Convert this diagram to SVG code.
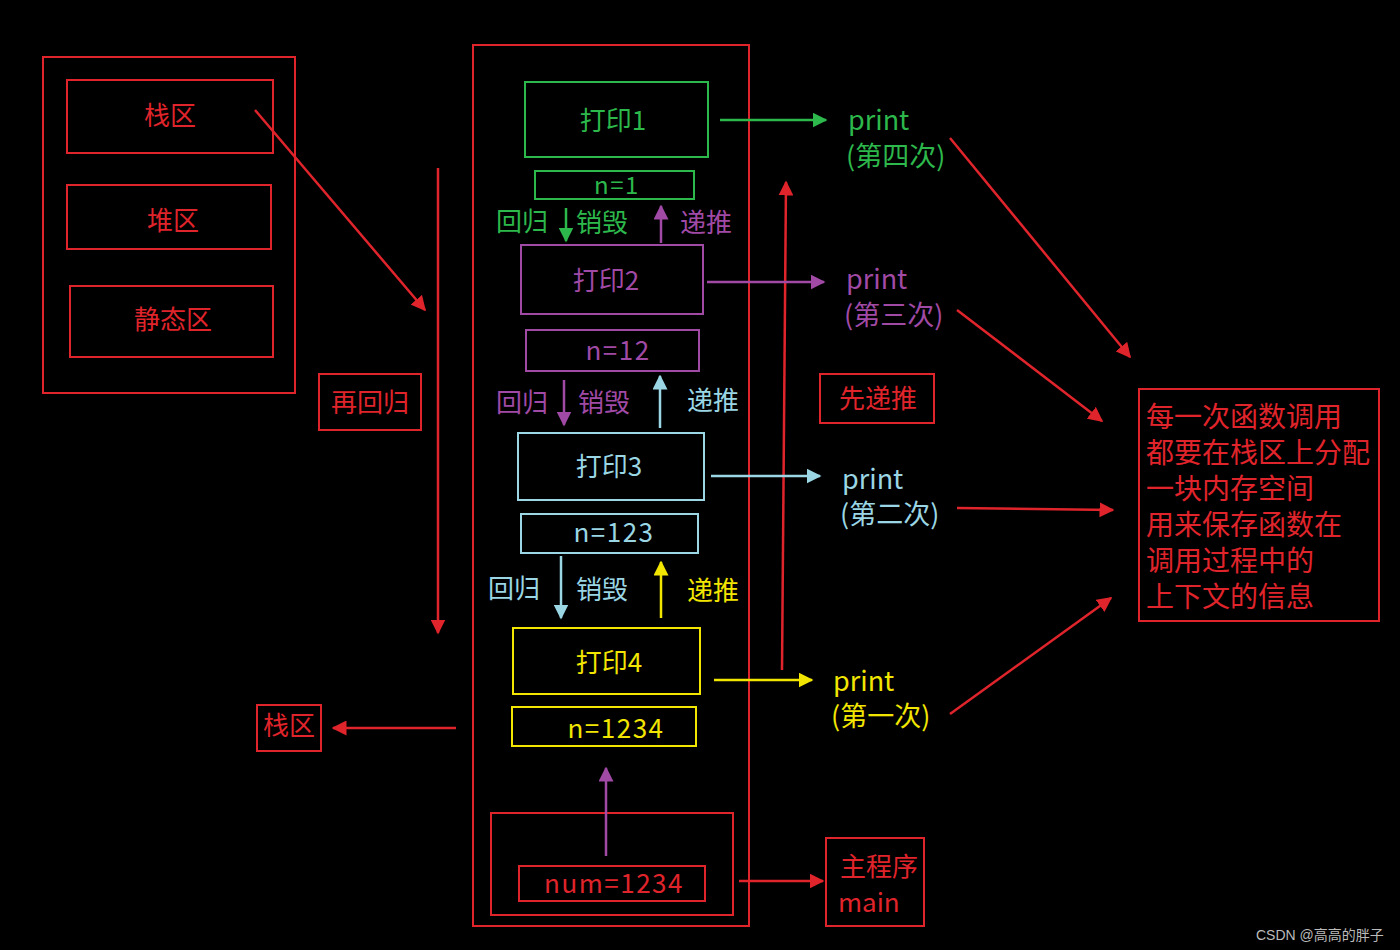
<svg xmlns="http://www.w3.org/2000/svg" width="1400" height="950" viewBox="0 0 1400 950">
<style>
text{font-family:"Noto Sans CJK SC","Noto Sans",sans-serif;font-size:26px;dominant-baseline:central}
.c{text-anchor:middle}
.n{letter-spacing:1.5px}
#info text{font-size:28px}
#prints text{font-size:27px}
.r{stroke:#e0242b;fill:none;stroke-width:2}
.rt{fill:#e0242b}
.g{stroke:#2db84c;fill:none;stroke-width:2}
.gt{fill:#2db84c}
.p{stroke:#a04aa6;fill:none;stroke-width:2}
.pt{fill:#a04aa6}
.cy{stroke:#9ad6e4;fill:none;stroke-width:2}
.ct{fill:#9ad6e4}
.y{stroke:#f2e600;fill:none;stroke-width:2}
.yt{fill:#f2e600}
.ln{stroke-width:2.5;fill:none}
</style>
<defs>
<marker id="ar" viewBox="0 0 10 10" refX="9" refY="5" markerWidth="6" markerHeight="6" orient="auto"><path d="M0,0L10,5L0,10z" fill="#e0242b"/></marker>
<marker id="ag" viewBox="0 0 10 10" refX="9" refY="5" markerWidth="6" markerHeight="6" orient="auto"><path d="M0,0L10,5L0,10z" fill="#2db84c"/></marker>
<marker id="ap" viewBox="0 0 10 10" refX="9" refY="5" markerWidth="6" markerHeight="6" orient="auto"><path d="M0,0L10,5L0,10z" fill="#a04aa6"/></marker>
<marker id="ac" viewBox="0 0 10 10" refX="9" refY="5" markerWidth="6" markerHeight="6" orient="auto"><path d="M0,0L10,5L0,10z" fill="#9ad6e4"/></marker>
<marker id="ay" viewBox="0 0 10 10" refX="9" refY="5" markerWidth="6" markerHeight="6" orient="auto"><path d="M0,0L10,5L0,10z" fill="#f2e600"/></marker>
</defs>
<rect width="1400" height="950" fill="#000"/>

<g id="memory">
<rect class="r" x="43" y="57" width="252" height="336"/>
<rect class="r" x="67" y="80" width="206" height="73"/>
<text class="c rt" x="170" y="113">栈区</text>
<rect class="r" x="67" y="185" width="204" height="64"/>
<text class="c rt" x="173" y="218">堆区</text>
<rect class="r" x="70" y="286" width="203" height="71"/>
<text class="c rt" x="173" y="317">静态区</text>
</g>
<g id="rehuigui"><rect class="r" x="319" y="374" width="102" height="56"/><text class="c rt" x="370" y="400">再回归</text></g>
<g id="zhanqu2"><rect class="r" x="257" y="705" width="64" height="46"/><text class="c rt" x="289" y="723">栈区</text></g>

<g id="stack">
<rect class="r" x="473" y="45" width="276" height="881"/>
</g>
<g id="p1"><rect class="g" x="525" y="82" width="183" height="75"/><text class="c gt" x="613" y="118">打印1</text></g>
<g id="n1"><rect class="g" x="535" y="171" width="159" height="28"/><text class="c gt n" x="617" y="183" style="font-size:24px">n=1</text></g>
<g id="p2"><rect class="p" x="521" y="245" width="182" height="69"/><text class="c pt" x="606" y="278">打印2</text></g>
<g id="n12"><rect class="p" x="526" y="330" width="173" height="41"/><text class="c pt n" x="618" y="348">n=12</text></g>
<g id="p3"><rect class="cy" x="518" y="433" width="186" height="67"/><text class="c ct" x="609" y="464">打印3</text></g>
<g id="n123"><rect class="cy" x="521" y="514" width="177" height="39"/><text class="c ct n" x="614" y="530">n=123</text></g>
<g id="p4"><rect class="y" x="513" y="628" width="187" height="66"/><text class="c yt" x="609" y="660">打印4</text></g>
<g id="n1234"><rect class="y" x="512" y="707" width="184" height="39"/><text class="c yt n" x="616" y="726">n=1234</text></g>
<g id="main">
<rect class="r" x="491" y="813" width="242" height="102"/>
<rect class="r" x="519" y="866" width="186" height="35"/>
<text class="c rt n" x="614" y="881">num=1234</text>
</g>
<g id="mainlabel"><rect class="r" x="826" y="838" width="98" height="88"/><text class="c rt" x="879" y="864">主程序</text><text class="rt" x="838" y="900">main</text></g>
<g id="xiandi"><rect class="r" x="820" y="374" width="114" height="49"/><text class="c rt" x="878" y="396">先递推</text></g>

<g id="prints">
<text class="gt" x="848" y="118">print</text><text class="gt" x="846" y="154">(第四次)</text>
<text class="pt" x="846" y="277">print</text><text class="pt" x="844" y="313">(第三次)</text>
<text class="ct" x="842" y="477">print</text><text class="ct" x="840" y="512">(第二次)</text>
<text class="yt" x="833" y="679">print</text><text class="yt" x="831" y="714">(第一次)</text>
</g>

<g id="labels">
<text class="gt" x="496" y="219">回归</text><text class="gt" x="576" y="220">销毁</text><text class="pt" x="680" y="220">递推</text>
<text class="pt" x="496" y="400">回归</text><text class="pt" x="578" y="400">销毁</text><text class="ct" x="687" y="398">递推</text>
<text class="ct" x="488" y="586">回归</text><text class="ct" x="576" y="587">销毁</text><text class="yt" x="687" y="588">递推</text>
</g>

<g id="info">
<rect class="r" x="1139" y="389" width="240" height="232"/>
<text class="rt" x="1146" y="415">每一次函数调用</text>
<text class="rt" x="1146" y="451">都要在栈区上分配</text>
<text class="rt" x="1146" y="487">一块内存空间</text>
<text class="rt" x="1146" y="523">用来保存函数在</text>
<text class="rt" x="1146" y="559">调用过程中的</text>
<text class="rt" x="1146" y="595">上下文的信息</text>
</g>

<g id="connectors">
<path class="ln" stroke="#e0242b" d="M255,110L425,310" marker-end="url(#ar)"/>
<path class="ln" stroke="#e0242b" d="M438,168V633" marker-end="url(#ar)"/>
<path class="ln" stroke="#e0242b" d="M456,728H333" marker-end="url(#ar)"/>
<path class="ln" stroke="#e0242b" d="M739,881H823" marker-end="url(#ar)"/>
<path class="ln" stroke="#e0242b" d="M782,670L786,182" marker-end="url(#ar)"/>
<path class="ln" stroke="#e0242b" d="M950,138L1130,357" marker-end="url(#ar)"/>
<path class="ln" stroke="#e0242b" d="M957,310L1102,421" marker-end="url(#ar)"/>
<path class="ln" stroke="#e0242b" d="M957,508L1113,510" marker-end="url(#ar)"/>
<path class="ln" stroke="#e0242b" d="M950,714L1111,598" marker-end="url(#ar)"/>
<path class="ln" stroke="#2db84c" d="M720,120H826" marker-end="url(#ag)"/>
<path class="ln" stroke="#a04aa6" d="M707,282H824" marker-end="url(#ap)"/>
<path class="ln" stroke="#9ad6e4" d="M711,476H820" marker-end="url(#ac)"/>
<path class="ln" stroke="#f2e600" d="M714,680H812" marker-end="url(#ay)"/>
<path class="ln" stroke="#2db84c" d="M566,208V241" marker-end="url(#ag)"/>
<path class="ln" stroke="#a04aa6" d="M661,243V206" marker-end="url(#ap)"/>
<path class="ln" stroke="#a04aa6" d="M564,380V425" marker-end="url(#ap)"/>
<path class="ln" stroke="#9ad6e4" d="M660,428V376" marker-end="url(#ac)"/>
<path class="ln" stroke="#9ad6e4" d="M561,556V618" marker-end="url(#ac)"/>
<path class="ln" stroke="#f2e600" d="M661,618V562" marker-end="url(#ay)"/>
<path class="ln" stroke="#a04aa6" d="M606,856V768" marker-end="url(#ap)"/>
</g>
<text x="1256" y="935" style="font-size:14px;fill:#bbb;font-family:'Liberation Sans','Noto Sans CJK SC',sans-serif">CSDN @高高的胖子</text>
</svg>
